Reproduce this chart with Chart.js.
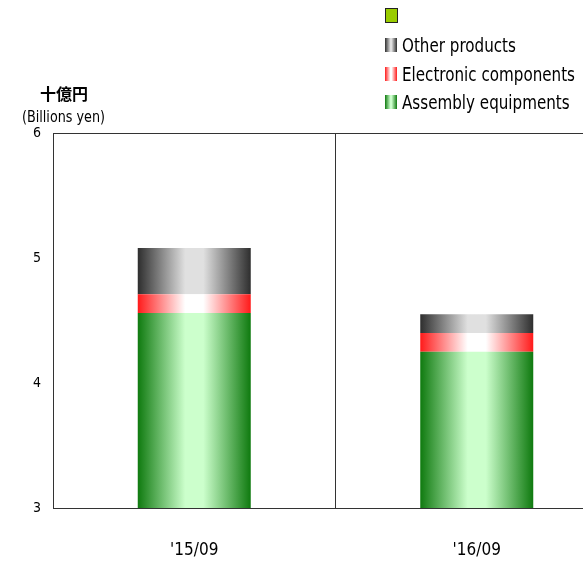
<!DOCTYPE html>
<html>
<head>
<meta charset="utf-8">
<script src="https://cdn.jsdelivr.net/npm/chart.js@4/dist/chart.umd.min.js"></script>
<style>
  html, body { margin: 0; padding: 0; overflow: hidden; background: #fff; }
  #wrap { position: relative; width: 583px; height: 561px; overflow: hidden; }
  canvas { position: absolute; left: 0; top: 0; }
  .txt { position: absolute; font-family: "Liberation Sans Narrow", "DejaVu Sans Condensed", sans-serif; color: #000; white-space: nowrap; }
  .leg { position: absolute; left: 385px; font-family: "Liberation Sans Narrow", "DejaVu Sans Condensed", sans-serif; font-size: 19px; line-height: 20px; }
  .sw { position: absolute; left: 0; top: 3px; width: 12px; height: 14px; }
  .leg span.lab { position: absolute; left: 17px; top: 0; white-space: nowrap; transform-origin: 0 50%; }
</style>
</head>
<body>
<div id="wrap">
  <canvas id="chart" width="640" height="561"></canvas>
  <div class="txt" style="left:40px; top:81px; font-size:16px; font-family:'Noto Sans CJK JP', sans-serif; font-weight:bold;">十億円</div>
  <div class="txt" id="unit" style="left:22px; top:108px; font-size:15px; transform-origin:0 50%;">(Billions yen)</div>
  <div id="legend"></div>
</div>
<script>
// data (stacked, axis starts at 3)
var categories = ["'15/09", "'16/09"];
var assembly = [4.56, 4.25];
var electronic = [0.15, 0.15];
var other = [0.37, 0.15];
var yTicks = [3, 4, 5, 6];

// edge colour / centre colour for each series
var shades = {
  assembly: ["#0f7a0f", "#ccffcc"],
  electronic: ["#ff1a1a", "#ffffff"],
  other: ["#2e2e2e", "#e0e0e0"]
};

function barGradient(pair) {
  return function(ctx) {
    var chart = ctx.chart;
    var x = chart.scales.x;
    if (!x || !chart.chartArea || ctx.dataIndex === undefined) return pair[0];
    var center = x.getPixelForValue(ctx.dataIndex);
    var half = (x.width / categories.length) * 0.4 / 2;
    var g = chart.ctx.createLinearGradient(center - half, 0, center + half, 0);
    g.addColorStop(0, pair[0]);
    g.addColorStop(0.42, pair[1]);
    g.addColorStop(0.58, pair[1]);
    g.addColorStop(1, pair[0]);
    return g;
  };
}

var font = "'Liberation Sans Narrow', 'DejaVu Sans Condensed', sans-serif";

new Chart(document.getElementById("chart"), {
  type: "bar",
  data: {
    labels: categories,
    datasets: [
      { label: "Assembly equipments", data: assembly, backgroundColor: barGradient(shades.assembly) },
      { label: "Electronic components", data: electronic, backgroundColor: barGradient(shades.electronic) },
      { label: "Other products", data: other, backgroundColor: barGradient(shades.other) }
    ]
  },
  options: {
    responsive: false,
    animation: false,
    layout: { padding: { top: 133, right: 22, left: 0, bottom: 0 } },
    datasets: { bar: { barPercentage: 0.4, categoryPercentage: 1, borderWidth: 0 } },
    plugins: { legend: { display: false }, tooltip: { enabled: false } },
    scales: {
      x: {
        stacked: true,
        grid: { offset: true, color: "#333", drawTicks: false, lineWidth: 1 },
        border: { color: "#333" },
        ticks: { color: "#000", font: { family: font, size: 17 }, padding: 32 },
        afterFit: function(s) { s.height = 53; }
      },
      y: {
        stacked: true,
        min: 3,
        max: 6,
        afterBuildTicks: function(s) { s.ticks = yTicks.map(function(v) { return { value: v }; }); },
        grid: {
          drawTicks: false,
          color: function(c) { return c.tick && c.tick.value === 6 ? "#333" : "transparent"; }
        },
        border: { color: "#333" },
        ticks: { color: "#000", font: { family: font, size: 14 }, padding: 12 },
        afterFit: function(s) { s.width = 53; }
      }
    }
  }
});

// legend, top item first (reverse of the stack)
var legendItems = [
  { label: "", swatch: "#99cc00", border: true },
  { label: "Other products", swatch: shades.other },
  { label: "Electronic components", swatch: shades.electronic },
  { label: "Assembly equipments", swatch: shades.assembly }
];
var legendTops = [5, 35, 64, 92];
var lg = document.getElementById("legend");
var labels = [];
legendItems.forEach(function(it, i) {
  var row = document.createElement("div");
  row.className = "leg";
  row.style.top = legendTops[i] + "px";
  var sw = document.createElement("div");
  sw.className = "sw";
  if (it.border) {
    sw.style.background = it.swatch;
    sw.style.border = "1px solid #222";
    sw.style.width = "11px";
    sw.style.height = "13px";
  } else {
    sw.style.background = "linear-gradient(to right," + it.swatch[0] + "," + it.swatch[1] + " 45%," + it.swatch[1] + " 55%," + it.swatch[0] + ")";
  }
  row.appendChild(sw);
  var t = document.createElement("span");
  t.className = "lab";
  t.textContent = it.label;
  row.appendChild(t);
  lg.appendChild(row);
  labels.push(t);
});
// the reference font is narrow: squeeze to its width
var widest = labels[2].getBoundingClientRect().width;
var k = 173 / widest;
labels.forEach(function(t) { t.style.transform = "scaleX(" + k + ")"; });
var unit = document.getElementById("unit");
unit.style.transform = "scaleX(" + (83 / unit.getBoundingClientRect().width) + ")";
</script>
</body>
</html>
